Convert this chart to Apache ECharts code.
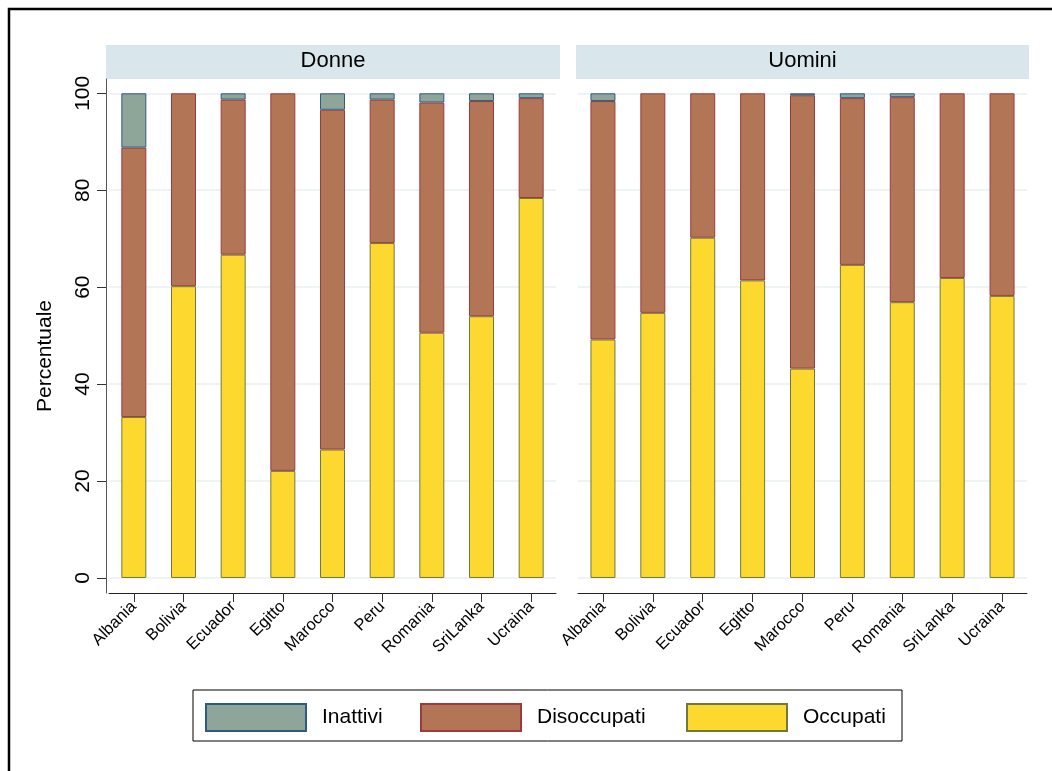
<!DOCTYPE html>
<html>
<head>
<meta charset="utf-8">
<script src="https://cdn.jsdelivr.net/npm/echarts@6/dist/echarts.min.js"></script>
<style>
  html, body { margin: 0; padding: 0; background: #fff; }
  #chart { width: 1052px; height: 771px; }
</style>
</head>
<body>
<div id="chart"></div>
<script>
const categories = ['Albania', 'Bolivia', 'Ecuador', 'Egitto', 'Marocco', 'Peru', 'Romania', 'SriLanka', 'Ucraina'];
const panelTitles = ['Donne', 'Uomini'];
const seriesNames = ['Inattivi', 'Disoccupati', 'Occupati'];
const yTicks = [0, 20, 40, 60, 80, 100];

const donneOccupati    = [33.2, 60.2, 66.7, 22.1, 26.5, 69.1, 50.6, 54.0, 78.4];
const donneDisoccupati = [55.6, 39.8, 32.0, 77.9, 70.1, 29.6, 47.5, 44.4, 20.6];
const donneInattivi    = [11.2, 0,    1.3,  0,    3.4,  1.3,  1.9,  1.6,  1.0];

const uominiOccupati    = [49.2, 54.7, 70.2, 61.4, 43.2, 64.6, 56.9, 61.9, 58.2];
const uominiDisoccupati = [49.2, 45.3, 29.8, 38.6, 56.4, 34.4, 42.3, 38.1, 41.8];
const uominiInattivi    = [1.6,  0,    0,    0,    0.4,  1.0,  0.8,  0,    0];

const FONT = 'Liberation Sans, Arial, Helvetica, sans-serif';
const styles = {
  'Inattivi':    { color: '#8ea599', borderColor: '#2f5b80', borderWidth: 1 },
  'Disoccupati': { color: '#b27656', borderColor: '#9b3b40', borderWidth: 1 },
  'Occupati':    { color: '#fdd930', borderColor: '#6f7a3a', borderWidth: 1 }
};

function nz(arr) { return arr.map(v => (v === 0 ? '-' : v)); }

const panelData = [
  { 'Occupati': donneOccupati, 'Disoccupati': donneDisoccupati, 'Inattivi': donneInattivi },
  { 'Occupati': uominiOccupati, 'Disoccupati': uominiDisoccupati, 'Inattivi': uominiInattivi }
];

const grids = [
  { left: 109, top: 79, width: 447, height: 514 },
  { left: 578, top: 79, width: 449, height: 514 }
];

const xAxes = grids.map((g, i) => ({
  type: 'category', gridIndex: i, data: categories,
  axisLine: { show: true, onZero: false, lineStyle: { color: '#222', width: 1 } },
  axisTick: { show: true, alignWithLabel: true, length: 9, lineStyle: { color: '#333' } },
  axisLabel: { interval: 0, rotate: 45, fontSize: 16.5, color: '#000', fontFamily: FONT, margin: 11 },
  splitLine: { show: false }
}));

const yAxes = grids.map((g, i) => ({
  type: 'value', gridIndex: i, min: -3.1, max: 102.95,
  offset: i === 0 ? 3 : 0,
  name: i === 0 ? 'Percentuale' : '',
  nameLocation: 'middle', nameRotate: 90, nameGap: 50,
  nameTextStyle: { fontSize: 21, color: '#000', fontFamily: FONT, padding: [0, 40, 0, 0] },
  axisLine: { show: i === 0, lineStyle: { color: '#555', width: 1 } },
  axisTick: { show: i === 0, length: 9, customValues: yTicks, lineStyle: { color: '#333' } },
  axisLabel: { show: i === 0, customValues: yTicks, rotate: 90, fontSize: 21, color: '#000', fontFamily: FONT, margin: 12 },
  splitLine: { show: true, lineStyle: { color: '#e8f0f2', width: 1.5 } }
}));

const series = [];
panelData.forEach((pd, i) => {
  ['Occupati', 'Disoccupati', 'Inattivi'].forEach(name => {
    series.push({
      name: name, type: 'bar', stack: 'p' + i,
      xAxisIndex: i, yAxisIndex: i,
      barWidth: 25,
      data: nz(pd[name]),
      itemStyle: styles[name],
      emphasis: { disabled: true }
    });
  });
});

const legendPos = [205, 420, 686];
const legends = seriesNames.map((n, k) => ({
  data: [n], left: legendPos[k], top: 703, orient: 'horizontal', padding: 0,
  icon: 'rect', itemWidth: 100, itemHeight: 27, selectedMode: false,
  textStyle: { fontSize: 21, color: '#000', fontFamily: FONT, padding: [0, 0, 0, 11] }
}));

const headers = [];
grids.forEach((g, i) => {
  const x0 = i === 0 ? 106 : 576;
  const w = i === 0 ? 454 : 453;
  headers.push({ type: 'rect', shape: { x: x0, y: 45, width: w, height: 34 }, style: { fill: '#d9e6eb' }, silent: true });
  headers.push({ type: 'text', x: x0 + w / 2, y: 61, style: { text: panelTitles[i], fill: '#000', font: '22px ' + FONT, align: 'center', verticalAlign: 'middle' }, silent: true });
});

const chart = echarts.init(document.getElementById('chart'), null, { renderer: 'canvas' });
chart.setOption({
  backgroundColor: '#fff',
  animation: false,
  grid: grids,
  xAxis: xAxes,
  yAxis: yAxes,
  legend: legends,
  series: series,
  graphic: [
    { type: 'rect', shape: { x: 9, y: 9, width: 1100, height: 800 }, style: { fill: 'none', stroke: '#000', lineWidth: 2.5 }, silent: true },
    { type: 'rect', shape: { x: 193, y: 690, width: 709, height: 51 }, style: { fill: 'none', stroke: '#000', lineWidth: 1 }, silent: true }
  ].concat(headers)
});
</script>
</body>
</html>
